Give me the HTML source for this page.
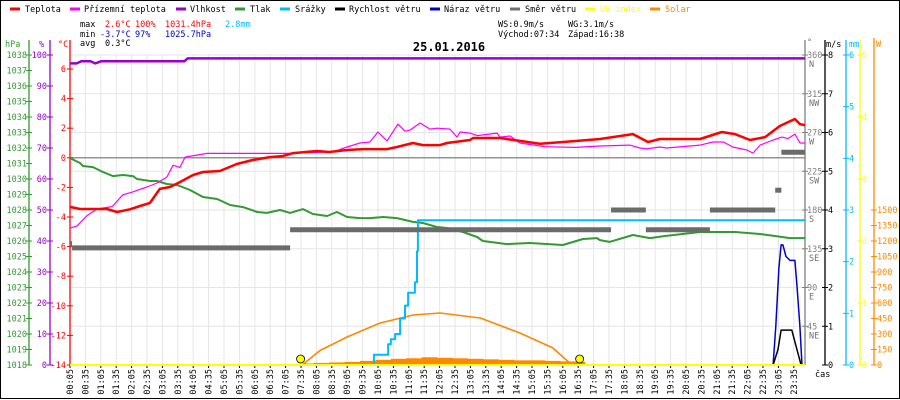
<!DOCTYPE html>
<html><head><meta charset="utf-8"><style>
html,body{margin:0;padding:0;background:#fff}
svg{display:block;font-family:"DejaVu Sans Mono","Liberation Mono",monospace}
</style></head><body>
<svg id="c" width="900" height="400" viewBox="0 0 900 400"></svg>
<script>
// ---- data (hours since midnight, values) ----
const tempH=[0.08,0.41,1.28,1.61,2.03,2.36,2.68,3.0,3.33,3.65,4.08,4.4,4.95,5.5,6.02,6.58,7.0,7.33,8.1,8.5,9.08,9.6,10.38,10.7,11.22,11.54,12.1,12.32,13.07,13.17,14.04,14.69,15.34,16.3,17.29,18.36,18.85,19.24,20.54,21.25,21.67,22.16,22.65,23.13,23.62,23.78,23.95];
const tempV=[-3.32,-3.46,-3.46,-3.66,-3.48,-3.26,-3.05,-2.1,-1.97,-1.64,-1.16,-0.96,-0.89,-0.42,-0.15,0.05,0.12,0.32,0.46,0.39,0.53,0.59,0.59,0.73,1.0,0.86,0.86,1.0,1.2,1.34,1.34,1.14,0.95,1.1,1.27,1.6,1.07,1.27,1.27,1.74,1.6,1.2,1.4,2.15,2.62,2.28,2.2];
const dewH=[0.08,0.31,0.64,0.96,1.45,1.8,2.13,2.58,2.91,3.23,3.43,3.65,3.82,4.53,7.13,8.62,9.08,9.5,9.82,10.08,10.38,10.73,10.96,11.12,11.45,11.77,12.0,12.42,12.65,12.75,13.07,13.3,13.95,14.04,14.37,14.69,15.5,16.5,17.29,18.26,18.59,18.8,19.24,19.45,20.54,20.96,21.3,21.6,22.06,22.26,22.49,22.91,23.2,23.39,23.62,23.78,23.95];
const dewV=[-4.75,-4.6,-3.9,-3.46,-3.3,-2.5,-2.3,-1.97,-1.7,-1.3,-0.5,-0.65,0.05,0.3,0.3,0.4,0.73,1.0,1.07,1.74,1.14,2.28,1.8,1.87,2.35,1.94,2.0,1.94,1.4,1.74,1.67,1.5,1.67,1.4,1.47,1.0,0.75,0.7,0.8,0.86,0.66,0.6,0.73,0.66,0.86,1.07,1.07,0.73,0.53,0.32,0.86,1.2,1.4,1.3,1.6,1.0,1.0];
const humH=[0.08,0.3,0.45,0.75,0.9,1.1,3.8,3.9,23.95];
const humV=[97.3,97.3,98.0,98.0,97.3,98.0,98.0,98.9,98.9];
const presH=[0.08,0.41,0.5,0.83,1.15,1.48,1.8,2.13,2.26,2.68,2.91,3.23,3.56,3.98,4.4,4.86,5.28,5.7,6.16,6.48,6.9,7.23,7.65,7.97,8.43,8.75,9.08,9.5,9.82,10.25,10.7,11.22,11.54,12.0,12.32,12.84,13.3,13.49,14.27,15.02,16.09,16.3,16.74,17.19,17.29,17.6,18.36,18.91,19.4,20.54,21.67,22.49,22.97,23.46,23.95];
const presV=[1031.35,1031.03,1030.84,1030.77,1030.45,1030.19,1030.26,1030.19,1030.0,1029.87,1029.87,1029.68,1029.61,1029.29,1028.84,1028.71,1028.32,1028.19,1027.87,1027.81,1028.0,1027.81,1028.06,1027.74,1027.61,1027.87,1027.55,1027.48,1027.48,1027.55,1027.48,1027.23,1027.16,1026.9,1026.84,1026.58,1026.26,1026.0,1025.8,1025.87,1025.74,1025.87,1026.13,1026.19,1026.06,1025.94,1026.39,1026.19,1026.32,1026.58,1026.58,1026.45,1026.32,1026.19,1026.19];
const rainH=[9.9,9.95,10.41,10.5,10.64,10.8,10.96,11.06,11.28,11.35,11.38,23.95];
const rainV=[0,0.2,0.4,0.5,0.6,0.9,1.15,1.4,1.6,2.2,2.8,2.8];
const windH=[22.91,23.07,23.17,23.52,23.62,23.72,23.82];
const windV=[0,0.4,0.9,0.9,0.6,0.3,0];
const gustH=[22.91,23.0,23.1,23.17,23.23,23.33,23.46,23.62,23.69,23.78,23.85];
const gustV=[0,1.0,2.5,3.1,3.1,2.8,2.7,2.7,2.0,1.0,0];
const dirStart=[0.08,0.15,7.23,17.65,18.78,20.86,22.98,23.18];
const dirEnd=[0.15,7.23,17.65,18.78,20.86,22.98,23.18,23.95];
const dirDeg=[141,136,157,180,157,180,203,247];
const solTheoH=[7.62,8.2,9.08,10.15,11.22,12.1,13.4,14.69,15.76,16.38];
const solTheoV=[0,140,271,406,484,503,455,310,165,0];
const solH=[7.7,8.0,8.5,9.0,9.5,10.0,10.5,11.0,11.5,12.0,12.5,13.0,13.5,14.0,14.5,15.0,15.5,16.0,16.5];
const solV=[15,20,25,30,40,50,60,65,75,70,65,60,55,50,45,45,40,35,30];
const sunEvents=[7.57,16.63];
const hpaTicks=[1018,1019,1020,1021,1022,1023,1024,1025,1026,1027,1028,1029,1030,1031,1032,1033,1034,1035,1036,1037,1038];
const humTicks=[0,10,20,30,40,50,60,70,80,90,100];
const tempTicks=[-14,-12,-10,-8,-6,-4,-2,0,2,4,6];
const dirTicks=[45,90,135,180,225,270,315,360];
const dirNames=['NE','E','SE','S','SW','W','NW','N'];
const msTicks=[0,1,2,3,4,5,6,7,8];
const mmTicks=[0,1,2,3,4,5,6];
const uvTicks=[0,1,2,3,4,5];
const wTicks=[0,150,300,450,600,750,900,1050,1200,1350,1500];

// ---- scales ----
const X0=70,X1=805,Y0=365,Y1=55;
const xh=h=>X0+(h-5/60)*30.8;
const yT=v=>Y0-(v+14)*14.8;
const yP=v=>Y0-(v-1018)*(310/20);
const yHum=v=>Y0-v*3.1;
const yMs=v=>Y0-v*(310/8);
const yMm=v=>Y0-v*(310/6);
const yUv=v=>Y0-v*(310/5);
const yW=v=>Y0-v*(155/1500);
const yDir=v=>Y0-v*(310/360);

const svg=document.getElementById('c');
const NS='http://www.w3.org/2000/svg';
function mk(tag,attrs,parent){const e=document.createElementNS(NS,tag);for(const k in attrs)e.setAttribute(k,attrs[k]);(parent||svg).appendChild(e);return e;}
function txt(x,y,s,fill,size,anchor,weight){const t=mk('text',{x:x,y:y,fill:fill,'font-size':size||8.5,'text-anchor':anchor||'start'});if(weight)t.setAttribute('font-weight',weight);t.textContent=s;return t;}
function path(hs,vs,ys,color,w,step){let d='';for(let i=0;i<hs.length;i++){const x=xh(hs[i]).toFixed(1),y=ys(vs[i]).toFixed(1);if(i===0)d+='M'+x+' '+y;else if(step)d+='H'+x+'V'+y;else d+='L'+x+' '+y;}return mk('path',{d:d,fill:'none',stroke:color,'stroke-width':w,'stroke-linejoin':'round'});}

// frame
const fr=mk('rect',{x:0.5,y:0.5,width:899,height:398,fill:'#fff',stroke:'#000'});


// grid
const grid=mk('g',{});

for(let i=0;i<48;i++){const x=X0+i*15.4;mk('line',{x1:x,y1:Y1,x2:x,y2:Y0,stroke:'#e6e6e6'},grid);}
for(const v of msTicks){mk('line',{x1:X0,y1:yMs(v),x2:X1,y2:yMs(v),stroke:'#e6e6e6'},grid);}
const zl=mk('line',{x1:X0,y1:yT(0),x2:X1,y2:yT(0),stroke:'#707070','stroke-width':1.2});


// legend
const legItems=[['Teplota','#f00',10,25],['Přízemní teplota','#f0f',70,84],['Vlhkost','#90c',176,190],['Tlak','#393',235,250],['Srážky','#0bf',280,295],['Rychlost větru','#000',335,349],['Náraz větru','#00c',430,444],['Směr větru','#707070',510,525],['UV index','#ff0',585,600],['Solar','#f80',650,665]];
for(const it of legItems){const g=mk('g',{});mk('line',{x1:it[2],y1:9,x2:it[2]+10,y2:9,stroke:it[1],'stroke-width':3},g);const t=txt(it[3],12,it[0],it[0]==='UV index'||it[0]==='Solar'?it[1]:'#000',8.5);g.appendChild(t);}
// stats
const st=mk('g',{});
[[80,27,'max','#000'],[105,27,'2.6°C','#f00'],[135,27,'100%','#f00'],[165,27,'1031.4hPa','#f00'],[225,27,'2.8mm','#0bf'],
 [80,37,'min','#000'],[100,37,'-3.7°C','#00c'],[135,37,'97%','#00c'],[165,37,'1025.7hPa','#00c'],
 [80,46,'avg','#000'],[105,46,'0.3°C','#000'],
 [498,27,'WS:0.9m/s','#000'],[568,27,'WG:3.1m/s','#000'],[498,37,'Východ:07:34','#000'],[568,37,'Západ:16:38','#000']].forEach(a=>st.appendChild(txt(a[0],a[1],a[2],a[3],8.5)));
const title=txt(449,51,'25.01.2016','#000',12,'middle','bold');


// axes
function axis(name,x,color,ticks,yf,labX,anchor,fmt,top){const g=mk('g',{});
 mk('line',{x1:x,y1:top||Y1-15,x2:x,y2:Y0,stroke:color,'stroke-width':1.3},g);
 ticks.forEach((v,i)=>{const y=yf(v);mk('line',{x1:x-3,y1:y,x2:x+3,y2:y,stroke:color},g);g.appendChild(txt(labX,y+3,fmt?fmt(v,i):String(v),color,8.5,anchor));});return g;}
axis('hpa-axis',29,'#393',hpaTicks,yP,27,'end');
axis('humidity-axis',50,'#90c',humTicks,yHum,47,'end');
axis('temp-axis',70,'#f00',tempTicks,yT,66,'end');
const dg=axis('direction-axis',805,'#808080',dirTicks,yDir,807,'start');
dirTicks.forEach((v,i)=>dg.appendChild(txt(809,yDir(v)+12,dirNames[i],'#707070',8.5)));
axis('wind-speed-axis',825,'#000',msTicks,yMs,828,'start');
axis('rain-axis',846,'#0bf',mmTicks,yMm,849,'start');
axis('uv-axis',860,'#ff0',uvTicks,yUv,862,'start');
axis('solar-axis',874,'#f80',wTicks,yW,877,'start',null,38);
[[5,47,'hPa','#393'],[39,47,'%','#90c'],[58,47,'°C','#f00'],[807,45,'°','#707070'],[826,47,'m/s','#000'],[849,47,'mm','#0bf'],[876,47,'W','#f80']].forEach(a=>{const t=txt(a[0],a[1],a[2],a[3],8.5);});

// x labels
const xl=mk('g',{});
for(let i=0;i<48;i++){const x=X0+i*15.4;const m=5+i*30;const s=String(Math.floor(m/60)).padStart(2,'0')+':'+String(m%60).padStart(2,'0');
 mk('line',{x1:x,y1:Y0,x2:x,y2:Y0+3,stroke:'#000'},xl);
 const t=txt(0,0,s,'#000',8.5,'end');t.setAttribute('transform','translate('+(x+3)+','+(Y0+4)+') rotate(-90)');xl.appendChild(t);}
mk('line',{x1:X0,y1:Y0,x2:X1,y2:Y0,stroke:'#000'},xl);
const cas=txt(815,377,'čas','#000',8.5);

// series
const sb=mk('g',{});
for(let i=0;i<solH.length;i++){const x=xh(solH[i]);const w=(i<solH.length-1?xh(solH[i+1]):xh(16.8))-x;mk('rect',{x:x,y:yW(solV[i]),width:w+0.3,height:Y0-yW(solV[i]),fill:'#f80'},sb);}
let s;
s=path(solTheoH,solTheoV,yW,'#f80',1.6);
s=path(humH,humV,yHum,'#90c',2.5);
s=path(presH,presV,yP,'#393',2);
s=path(dewH,dewV,yT,'#f0f',1.2);
s=path(tempH,tempV,yT,'#f00',2.5);
s=path(rainH,rainV,yMm,'#0bf',2,true);
const dgrp=mk('g',{});
for(let i=0;i<dirDeg.length;i++){mk('line',{x1:xh(dirStart[i]),y1:yDir(dirDeg[i]),x2:xh(dirEnd[i]),y2:yDir(dirDeg[i]),stroke:'#6b6b6b','stroke-width':5},dgrp);}
s=path(gustH,gustV,yMs,'#00c',1.5);
s=path(windH,windV,yMs,'#000',1.5);
s=mk('line',{x1:X0,y1:Y0,x2:X1,y2:Y0,stroke:'#ff0','stroke-width':2});
for(const h of sunEvents){const c=mk('circle',{cx:xh(h),cy:359,r:4,fill:'#ff0',stroke:'#000','stroke-width':0.8});}
</script>
</body></html>
